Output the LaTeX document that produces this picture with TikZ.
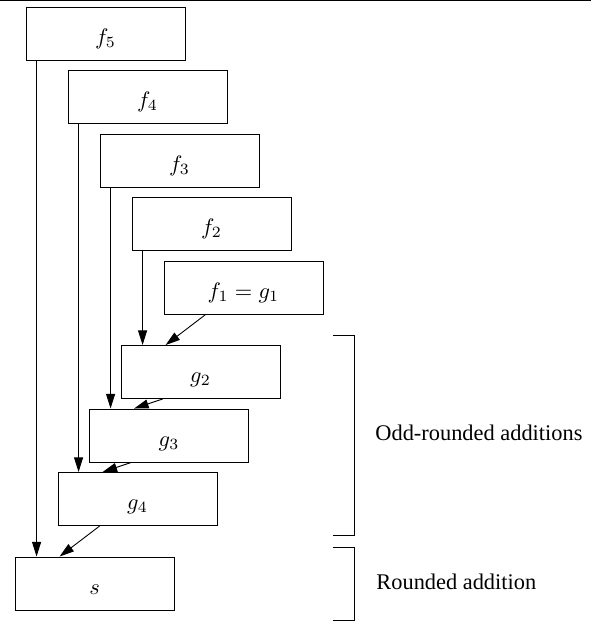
\documentclass[tikz,border=0pt]{standalone}
\usepackage{fontspec}
\setmainfont{Liberation Serif}
\usetikzlibrary{arrows.meta}
\tikzset{
  opbox/.style={draw, rectangle, minimum width=71.0pt, minimum height=23.7pt, inner sep=0pt,
    text height=11pt, text depth=1.6pt},
  arr/.style={-{Triangle[length=6.5pt,width=4pt]}},
  lbl/.style={anchor=base west, inner sep=0pt, font=\fontsize{10}{12}\selectfont}
}
\begin{document}
\begin{tikzpicture}[x=0.4468pt, y=-0.4468pt]
\useasboundingbox (0,0) rectangle (591,621);
% top rule
\draw[line width=0.45pt] (0,0.5) -- (591,0.5);
% boxes
\node[opbox] (f5) at (105.5,33.5) {$f_5$};
\node[opbox] (f4) at (147.5,96.5) {$f_4$};
\node[opbox] (f3) at (179.5,160.5) {$f_3$};
\node[opbox] (f2) at (211.5,223.5) {$f_2$};
\node[opbox] (f1) at (243.5,287.5) {$f_1=g_1$};
\node[opbox] (g2) at (200.5,372) {$g_2$};
\node[opbox] (g3) at (169,435.5) {$g_3$};
\node[opbox] (g4) at (137.5,499) {$g_4$};
\node[opbox] (s)  at (94.5,583.5) {$s$};
% vertical connectors
\coordinate (v5) at ([xshift=4.9pt]f5.south west);
\coordinate (v4) at ([xshift=4.9pt]f4.south west);
\coordinate (v3) at ([xshift=4.9pt]f3.south west);
\coordinate (v2) at ([xshift=4.9pt]f2.south west);
\draw[arr] (v5) -- (v5 |- s.north);
\draw[arr] (v4) -- (v4 |- g4.north);
\draw[arr] (v3) -- (v3 |- g3.north);
\draw[arr] (v2) -- (v2 |- g2.north);
% diagonal connectors
\draw[arr] ([xshift=18.8pt]f1.south west) -- ([xshift=20.1pt]g2.north west);
\draw[arr] ([xshift=18.8pt]g2.south west) -- ([xshift=20.1pt]g3.north west);
\draw[arr] ([xshift=18.8pt]g3.south west) -- ([xshift=20.1pt]g4.north west);
\draw[arr] ([xshift=18.8pt]g4.south west) -- ([xshift=20.1pt]s.north west);
% brackets
\draw (333,335) -- (354,335) -- (354,535) -- (333,535);
\draw (333,547) -- (354,547) -- (354,620) -- (333,620);
\node[lbl] (odd) at (375,440) {Odd-rounded additions};
\node[lbl] (rnd) at (376,589) {Rounded addition};
\end{tikzpicture}
\end{document}
